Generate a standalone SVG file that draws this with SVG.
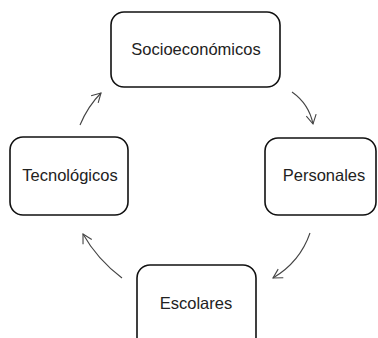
<svg xmlns="http://www.w3.org/2000/svg" width="378" height="338" viewBox="0 0 378 338">
<style>
.box{fill:#fff;stroke:#111;stroke-width:1.6}
.lbl{font-family:"Liberation Sans",Arial,sans-serif;font-size:16.5px;fill:#222;text-anchor:middle}
.conn{fill:none;stroke:#444;stroke-width:1.1}
</style>
<defs>
<marker id="ah" markerWidth="12" markerHeight="12" refX="10" refY="6" orient="auto" markerUnits="userSpaceOnUse">
<path d="M1,1 L10,6 L1,11" fill="none" stroke="#444" stroke-width="1.1"/>
</marker>
</defs>
<rect width="378" height="338" fill="#fff"/>
<g id="connectors">
<path class="conn" d="M292,92 Q309,104 313,124" marker-end="url(#ah)"/>
<path class="conn" d="M310,233 Q300,262 273,278" marker-end="url(#ah)"/>
<path class="conn" d="M122,278 Q97,259 83,234" marker-end="url(#ah)"/>
<path class="conn" d="M80,125 Q88,106 101,93" marker-end="url(#ah)"/>
</g>
<g id="socio">
<rect class="box" x="111" y="12" width="169" height="75" rx="13"/>
<text class="lbl" x="196" y="55">Socioeconómicos</text>
</g>
<g id="personales">
<rect class="box" x="265" y="138" width="111" height="77" rx="13"/>
<text class="lbl" x="324" y="181">Personales</text>
</g>
<g id="tecnologicos">
<rect class="box" x="10" y="137" width="118" height="78" rx="13"/>
<text class="lbl" x="70" y="181">Tecnológicos</text>
</g>
<g id="escolares">
<rect class="box" x="137" y="265" width="119" height="85" rx="13"/>
<text class="lbl" x="196" y="309">Escolares</text>
</g>
</svg>
